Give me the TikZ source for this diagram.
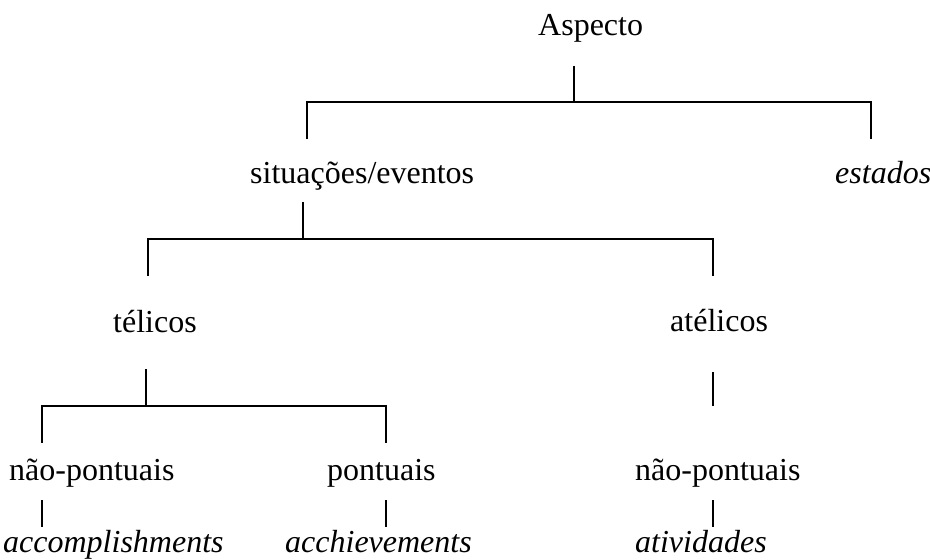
\documentclass[tikz,border=0pt]{standalone}
\usepackage{fontspec}
\setmainfont{Liberation Serif}
\begin{document}
\begin{tikzpicture}[x=1pt,y=-1pt,
  lbl/.style={anchor=base west, inner sep=0pt, font=\fontsize{32}{38}\selectfont},
  ilbl/.style={anchor=base west, inner sep=0pt, font=\fontsize{32}{38}\selectfont\itshape},
  conn/.style={line width=1.6pt}]
\useasboundingbox (0,0) rectangle (930,560);
% labels
\node[lbl]  (asp) at (538,35)  {Aspecto};
\node[lbl]  (sit) at (250,183) {situações/eventos};
\node[ilbl] (est) at (835,183) {estados};
\node[lbl]  (tel) at (113,332) {télicos};
\node[lbl]  (ate) at (670,331) {atélicos};
\node[lbl]  (npl) at (9,480)   {não-pontuais};
\node[lbl]  (pon) at (327,480) {pontuais};
\node[lbl]  (npr) at (635,480) {não-pontuais};
\node[ilbl] (acc) at (3,552)   {accomplishments};
\node[ilbl] (ach) at (285,552) {acchievements};
\node[ilbl] (ati) at (635,552) {atividades};
% connector points
\coordinate (a1) at (574,66);  \coordinate (a2) at (574,102);
\coordinate (a3) at (307,139); \coordinate (a4) at (871,139);
\coordinate (s1) at (303,202); \coordinate (s2) at (303,239);
\coordinate (s3) at (148,276); \coordinate (s4) at (713,276);
\coordinate (t1) at (146,369); \coordinate (t2) at (146,406);
\coordinate (t3) at (42,443);  \coordinate (t4) at (386,443);
\coordinate (r1) at (713,372); \coordinate (r2) at (713,406);
\coordinate (l1) at (42,500);  \coordinate (l2) at (42,527);
\coordinate (p1) at (386,500); \coordinate (p2) at (386,527);
\coordinate (q1) at (713,500); \coordinate (q2) at (713,527);
% connectors
\draw[conn] (a1) -- (a2);
\draw[conn] (a3) |- (a2) -| (a4);
\draw[conn] (s1) -- (s2);
\draw[conn] (s3) |- (s2) -| (s4);
\draw[conn] (t1) -- (t2);
\draw[conn] (t3) |- (t2) -| (t4);
\draw[conn] (r1) -- (r2);
\draw[conn] (l1) -- (l2);
\draw[conn] (p1) -- (p2);
\draw[conn] (q1) -- (q2);
\end{tikzpicture}
\end{document}
